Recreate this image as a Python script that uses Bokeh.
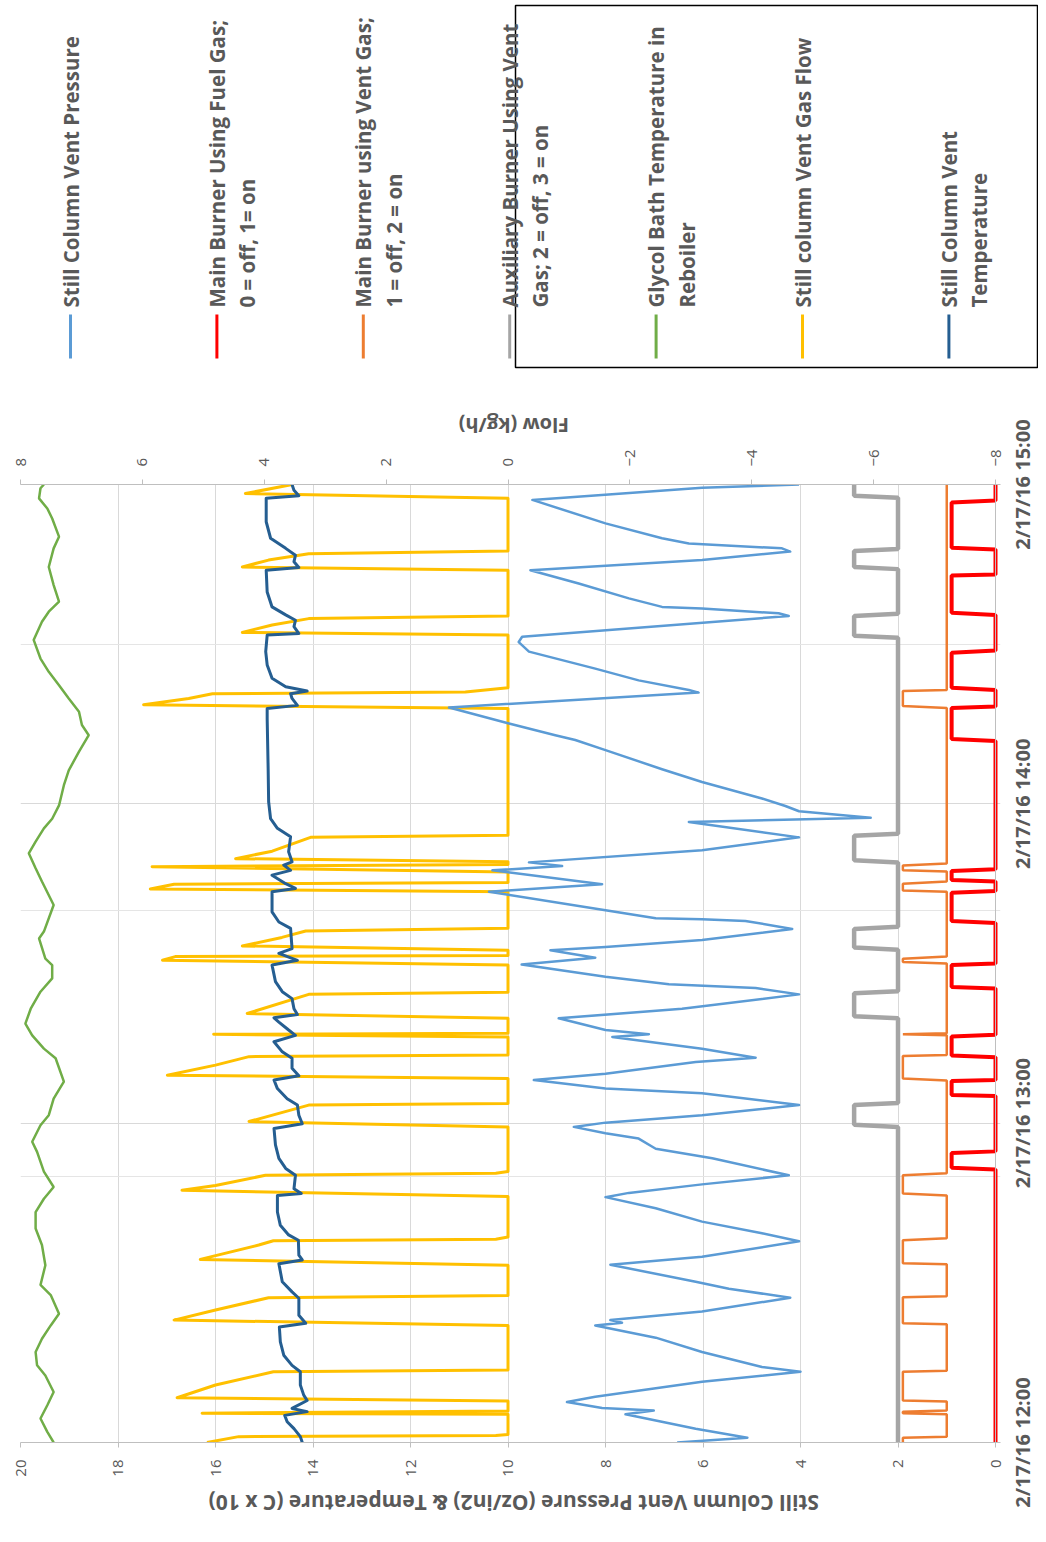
import math
from bokeh.plotting import figure
from bokeh.models import Range1d, LinearAxis, FixedTicker, Grid, Span
from bokeh.layouts import column, row
from bokeh.embed import file_html
from bokeh.resources import INLINE
from bokeh.core.properties import value

# ---------------- data (time = minutes after 2/17/16 12:00) ----------------
time_ticks = [0, 60, 120, 180]
time_labels = ["2/17/16 12:00", "2/17/16 13:00", "2/17/16 14:00", "2/17/16 15:00"]
primary_ticks = [0, 2, 4, 6, 8, 10, 12, 14, 16, 18, 20]
flow_ticks = [-8, -6, -4, -2, 0, 2, 4, 6, 8]
primary_title = "Still Column Vent Pressure (Oz/in2) & Temperature (C x 10)"
flow_title = "Flow (kg/h)"

pressure_t = [0, 0.9, 2.6, 5.3, 6.0, 6.5, 7.6, 8.6, 11.4, 13.3, 14.2, 17.0, 19.7, 22.0, 22.5, 23.0,
              24.6, 27.2, 28.9, 30.2, 33.4, 34.9, 37.8, 39.3, 41.5, 44.0, 46.1, 46.9, 48.5, 50.2,
              53.4, 55.2, 57.1, 58.1, 59.3, 60.1, 61.5, 63.4, 65.6, 66.5, 68.1, 69.3, 71.5, 72.3,
              74.0, 76.2, 76.7, 77.5, 79.7, 81.5, 84.2, 85.4, 86.1, 87.5, 89.8, 91.1, 92.5, 93.1,
              94.4, 96.5, 98.0, 98.3, 98.5, 100.0, 103.5, 104.9, 107.5, 108.3, 109.0, 111.3, 113.7,
              116.6, 117.4, 118.6, 119.6, 121.0, 124.1, 126.5, 130.1, 132.0, 132.9, 135.1, 138.1,
              140.9, 141.4, 143.2, 145.4, 148.6, 150.4, 151.4, 155.3, 155.8, 156.7, 157.0, 158.6,
              161.4, 163.9, 165.8, 167.4, 168.0, 168.9, 169.9, 172.7, 177.1, 179.4, 180]
pressure_v = [6.53, 5.09, 6.15, 7.59, 7.01, 8.07, 8.79, 8.21, 6.02, 4.0, 4.79, 6.02, 6.97, 8.21, 7.66, 7.90,
              6.02, 4.21, 5.47, 6.15, 7.90, 6.02, 4.03, 4.79, 6.02, 6.97, 8.0, 7.52, 6.02, 4.24,
              5.81, 6.97, 7.32, 8.0, 8.65, 8.0, 6.02, 4.03, 6.02, 8.0, 9.47, 8.0, 6.15, 4.92,
              6.02, 7.86, 7.11, 8.0, 8.96, 6.43, 4.03, 4.92, 6.70, 8.0, 9.72, 8.21, 9.13, 8.0,
              6.02, 4.17, 5.13, 6.02, 6.97, 8.0, 10.39, 8.07, 10.32, 8.89, 9.57, 6.02, 4.03,
              6.29, 2.56, 4.03, 4.31, 4.79, 6.02, 6.84, 8.0, 8.62, 9.03, 9.98, 11.21,
              6.09, 6.29, 7.32, 8.21, 9.57, 9.78, 9.71, 4.24, 4.45, 6.02, 6.84, 7.52,
              8.55, 9.54, 6.02, 4.21, 4.38, 6.29, 6.84, 8.0, 9.50, 6.02, 4.03]

fuel_t = [0, 51.3, 51.6, 54.4, 54.7, 65.1, 65.3, 67.9, 68.1, 72.4, 72.7, 76.3, 76.6, 85.3, 85.6, 89.7,
          90.0, 97.6, 98.0, 103.3, 103.6, 105.4, 105.7, 107.4, 107.7, 131.8, 132.2, 138.0, 138.3,
          141.4, 141.8, 148.4, 148.8, 155.5, 155.9, 162.9, 163.1, 167.8, 168.1, 176.6, 177.0, 180]
fuel_v = [0, 0, 0.9, 0.9, 0, 0, 0.9, 0.9, 0, 0, 0.9, 0.9, 0, 0, 0.9, 0.9, 0, 0, 0.9, 0.9, 0, 0,
          0.9, 0.9, 0, 0, 0.9, 0.9, 0, 0, 0.9, 0.9, 0, 0, 0.9, 0.9, 0, 0, 0.9, 0.9, 0, 0]

ventgas_t = [0, 0.9, 1.1, 5.3, 5.5, 5.8, 6.0, 7.7, 7.9, 13.3, 13.5, 22.2, 22.4, 27.3, 27.5, 33.5,
             33.7, 38.0, 38.4, 46.4, 46.8, 50.2, 50.6, 68.0, 68.4, 72.6, 72.8, 76.5, 76.7, 76.9,
             90.0, 90.3, 90.9, 91.3, 103.5, 103.7, 105.0, 105.4, 107.3, 107.5, 108.4, 108.8,
             138.0, 138.4, 141.2, 141.4, 180]
ventgas_v = [1.9, 1.9, 1, 1, 1.9, 1.9, 1, 1, 1.9, 1.9, 1, 1, 1.9, 1.9, 1, 1, 1.9, 1.9, 1, 1, 1.9,
             1.9, 1, 1, 1.9, 1.9, 1, 1, 1.9, 1, 1, 1.9, 1.9, 1, 1, 1.9, 1.9, 1, 1, 1.9, 1.9, 1,
             1, 1.9, 1.9, 1, 1]

aux_t = [0, 59.3, 59.7, 63.4, 63.8, 79.7, 80.1, 84.4, 84.8, 92.6, 93.0, 96.5, 96.9, 109.0, 109.4,
         114.0, 114.4, 151.2, 151.6, 155.3, 155.7, 164.1, 164.5, 167.5, 167.9, 177.5, 177.9, 180]
aux_v = [2, 2, 2.9, 2.9, 2, 2, 2.9, 2.9, 2, 2, 2.9, 2.9, 2, 2, 2.9, 2.9, 2, 2, 2.9, 2.9, 2, 2,
         2.9, 2.9, 2, 2, 2.9, 2.9]

glycol_t = [0, 2.0, 4.5, 7.0, 9.5, 12.6, 14.5, 17.0, 19.5, 22.0, 24.2, 27.7, 29.6, 33.3, 37.1, 40.2,
            43.3, 45.8, 48.0, 50.9, 54.6, 56.5, 59.6, 61.5, 64.6, 67.8, 72.2, 74.0, 76.5, 78.7,
            81.5, 84.7, 87.2, 89.7, 90.9, 94.7, 96.0, 101.0, 105.4, 107.9, 110.7, 112.9, 115.4,
            117.2, 119.7, 123.5, 126.3, 129.8, 132.9, 134.8, 137.3, 139.8, 142.3, 144.8, 147.3,
            150.8, 154.2, 156.1, 158.0, 161.1, 164.5, 168.0, 170.2, 173.6, 175.5, 177.4, 179.3, 180]
glycol_v = [19.32, 19.45, 19.59, 19.45, 19.32, 19.49, 19.66, 19.69, 19.56, 19.38, 19.21, 19.38, 19.59,
            19.49, 19.56, 19.69, 19.69, 19.52, 19.32, 19.52, 19.66, 19.76, 19.59, 19.42, 19.32, 19.11,
            19.28, 19.52, 19.76, 19.90, 19.79, 19.59, 19.35, 19.35, 19.49, 19.62, 19.52, 19.32, 19.56,
            19.69, 19.83, 19.69, 19.52, 19.35, 19.21, 19.11, 19.01, 18.80, 18.60, 18.74, 18.80, 19.01,
            19.21, 19.42, 19.59, 19.73, 19.56, 19.42, 19.21, 19.32, 19.42, 19.32, 19.21, 19.35, 19.45,
            19.62, 19.59, 19.52]

flow_t = [0, 1.1, 1.3, 1.5, 5.3, 5.5, 5.9, 7.8, 8.4, 10.8, 13.3, 13.6, 22.0, 23.0, 24.9, 27.2, 27.6,
          33.3, 34.4, 37.1, 37.9, 38.2, 38.6, 46.2, 47.4, 48.3, 50.2, 50.6, 50.9, 59.3, 60.3, 63.4,
          63.7, 68.4, 69.0, 70.9, 72.5, 72.8, 76.2, 76.7, 76.9, 79.7, 80.6, 84.2, 84.6, 89.7, 90.6,
          91.3, 91.5, 92.5, 93.3, 94.9, 96.1, 96.6, 103.5, 104.0, 104.9, 105.2, 107.2, 108.2, 108.6,
          109.1, 109.7, 111.1, 113.7, 114.1, 137.9, 138.6, 139.8, 140.7, 141.0, 141.8, 151.7, 152.2,
          153.6, 154.8, 155.3, 163.9, 164.5, 165.8, 167.0, 167.5, 177.4, 178.3, 180]
flow_v = [4.94, 4.42, 0.2, 0, 0, 5.02, 0, 0, 5.43, 4.80, 3.85, 0, 0, 5.48, 4.80, 3.93, 0,
          0, 5.05, 4.09, 3.85, 0.2, 0, 0, 5.35, 4.80, 3.98, 0.2, 0, 0, 4.25, 3.27,
          0, 0, 5.59, 4.80, 4.25, 0, 0, 4.83, 0, 0, 4.28, 3.27, 0, 0, 5.67,
          5.46, 0, 0, 4.36, 3.71, 3.32, 0, 0, 5.87, 5.48, 0, 0, 5.84, 0,
          0, 4.47, 3.87, 3.24, 0, 0, 5.98, 5.24, 4.85, 0.70, 0, 0, 4.36,
          3.87, 3.27, 0, 0, 4.36, 3.93, 3.27, 0, 0, 4.31, 3.54]

venttemp_t = [0, 1.1, 2.6, 3.9, 5.1, 5.8, 6.4, 7.9, 8.9, 10.8, 13.3, 14.5, 16.4, 18.9, 21.7, 22.4,
              23.9, 27.1, 28.3, 30.2, 33.6, 34.3, 35.2, 38.0, 39.0, 40.8, 43.3, 46.4, 46.8, 47.7,
              50.2, 51.5, 53.4, 55.9, 59.0, 59.9, 61.5, 63.4, 64.6, 66.5, 68.1, 68.9, 70.3, 72.2,
              73.4, 75.3, 76.5, 77.5, 79.0, 79.8, 80.4, 81.5, 83.4, 84.7, 86.6, 89.7, 90.6, 91.9,
              92.8, 96.6, 97.8, 99.7, 103.5, 104.1, 105.0, 106.6, 107.5, 108.5, 109.1, 111.0, 113.8,
              115.4, 117.2, 120.4, 126.6, 136.0, 137.9, 138.5, 139.8, 140.7, 141.2, 142.0, 143.6,
              146.1, 148.6, 151.7, 152.0, 153.3, 154.5, 155.5, 157.0, 159.8, 163.9, 164.4, 165.5,
              166.7, 168.0, 169.9, 173.0, 177.4, 177.9, 178.9, 180]
venttemp_v = [14.22, 14.26, 14.39, 14.53, 14.58, 14.12, 14.43, 14.12, 14.19, 14.26, 14.26, 14.43, 14.60,
              14.67, 14.69, 14.15, 14.29, 14.29, 14.43, 14.63, 14.70, 14.22, 14.29, 14.30, 14.50,
              14.67, 14.73, 14.73, 14.24, 14.39, 14.36, 14.56, 14.70, 14.77, 14.80, 14.22, 14.29,
              14.32, 14.53, 14.73, 14.80, 14.29, 14.43, 14.43, 14.63, 14.80, 14.36, 14.50, 14.70,
              14.80, 14.32, 14.39, 14.43, 14.63, 14.77, 14.84, 14.32, 14.70, 14.43, 14.46, 14.70,
              14.84, 14.84, 14.36, 14.56, 14.84, 14.46, 14.60, 14.43, 14.50, 14.46, 14.73, 14.87,
              14.91, 14.92, 14.94, 14.94, 14.32, 14.43, 14.46, 14.12, 14.56, 14.84, 14.94, 14.97,
              14.94, 14.29, 14.39, 14.36, 14.56, 14.84, 14.94, 14.96, 14.29, 14.39, 14.36, 14.56,
              14.87, 14.96, 14.96, 14.29, 14.39, 14.43]

legend_labels = [
    ["Still Column Vent Pressure"],
    ["Main Burner Using Fuel Gas;", "0 = off, 1= on"],
    ["Main Burner using Vent Gas;", "1 = off, 2 = on"],
    ["Auxiliary Burner Using Vent", "Gas; 2 = off, 3 = on"],
    ["Glycol Bath Temperature in", "Reboiler"],
    ["Still column Vent Gas Flow"],
    ["Still Column Vent", "Temperature"],
]
legend_colors = ["#5B9BD5", "#FF0000", "#ED7D31", "#A5A5A5", "#70AD47", "#FFC000", "#255E91"]

TXT = "#595959"
FONT = "Open Sans"
PX_PER_MIN = 958 / 180.0        # vertical scale of the time axis
PX_PER_UNIT = 975 / 20.0        # horizontal scale of the primary axis
LEFT_W = 1008                   # width of the chart column; labels strip to its right


def blank(width, height, xr, yr):
    f = figure(width=width, height=height, x_range=xr, y_range=yr, output_backend="svg",
               toolbar_location=None, min_border=0, x_axis_location=None, y_axis_location=None)
    f.grid.visible = False
    f.outline_line_color = None
    return f


# ---------------- header: legend (page pixel coords) ----------------
hdr = blank(1038, 372, Range1d(0, 1038), Range1d(372, 0))
hdr.quad(left=[515], right=[1037], top=[5], bottom=[367], fill_color=None,
         line_color="black", line_width=1.5)
tx, ty, tt, kx = [], [], [], []
for i, lines in enumerate(legend_labels):
    cx = 70 + 146.4 * i
    kx.append(cx)
    for j, s in enumerate(lines):
        tx.append(cx + 30.5 * j)
        ty.append(307)
        tt.append(s)
hdr.segment(x0=kx, y0=[314] * 7, x1=kx, y1=[358] * 7, line_color=legend_colors, line_width=3)
hdr.text(x=tx, y=ty, text=tt, angle=math.pi / 2, text_align="left", text_baseline="middle",
         text_font=value(FONT), text_font_style="bold", text_font_size="20.5px", text_color=TXT)

# ---------------- secondary axis title ----------------
sub = blank(LEFT_W, 73, Range1d(0, LEFT_W), Range1d(445, 372))
sub.text(x=[507.5], y=[425], text=[flow_title], angle=math.pi, text_align="center",
         text_baseline="middle", text_font=value(FONT), text_font_style="bold",
         text_font_size="20px", text_color=TXT)

# ---------------- main chart ----------------
p = figure(width=LEFT_W, height=1042, output_backend="svg", toolbar_location=None,
           x_range=Range1d(20, -5 / PX_PER_UNIT), y_range=Range1d(0, 180),
           x_axis_location="below", y_axis_location=None,
           min_border_left=20, min_border_right=LEFT_W - 1000, min_border_top=39,
           min_border_bottom=45)
p.outline_line_color = None
p.extra_x_ranges = {"flow": Range1d(8, -8 - 5 / (975 / 16.0))}

bx = p.below[0]
bx.ticker = FixedTicker(ticks=primary_ticks)
bx.major_label_orientation = math.pi / 2
bx.major_label_standoff = 12

top = LinearAxis(x_range_name="flow", ticker=FixedTicker(ticks=flow_ticks))
top.major_label_orientation = math.pi / 2
top.major_label_standoff = 13
p.add_layout(top, "above")

for ax in (bx, top):
    ax.axis_line_color = "#BFBFBF"
    ax.major_tick_line_color = "#BFBFBF"
    ax.major_tick_out = 5
    ax.major_tick_in = 0
    ax.minor_tick_line_color = None
    ax.major_label_text_font = FONT
    ax.major_label_text_font_size = "15px"
    ax.major_label_text_color = TXT

p.xgrid.ticker = FixedTicker(ticks=primary_ticks)
p.xgrid.grid_line_color = "#D9D9D9"
p.add_layout(Grid(dimension=1, ticker=FixedTicker(ticks=[60, 120]), grid_line_color="#D9D9D9"))
p.add_layout(Span(location=0, dimension="height", line_color="#BFBFBF", line_width=1))

p.line(glycol_v, glycol_t, line_color="#70AD47", line_width=2.5)
p.line(flow_v, flow_t, x_range_name="flow", line_color="#FFC000", line_width=3, line_join="round")
p.line(pressure_v, pressure_t, line_color="#5B9BD5", line_width=2.5, line_join="round")
p.line(aux_v, aux_t, line_color="#A5A5A5", line_width=4.5)
p.line(ventgas_v, ventgas_t, line_color="#ED7D31", line_width=2.5)
p.line(fuel_v, fuel_t, line_color="#FF0000", line_width=4)
p.line(venttemp_v, venttemp_t, line_color="#255E91", line_width=3, line_join="round")

# ---------------- footer: primary axis title ----------------
ftr = blank(LEFT_W, 47, Range1d(0, LEFT_W), Range1d(1534, 1487))
ftr.text(x=[507.5], y=[1502], text=[primary_title], angle=math.pi, text_align="center",
         text_baseline="middle", text_font=value(FONT), text_font_style="bold",
         text_font_size="21px", text_color=TXT)

# ---------------- time-axis labels strip (same vertical scale as the chart) ----------------
strip = blank(1038 - LEFT_W, 1162, Range1d(0, 1038 - LEFT_W),
              Range1d(-(1534 - 1442) / PX_PER_MIN, 180 + (484 - 372) / PX_PER_MIN))
strip.text(x=[1022 - LEFT_W] * len(time_ticks), y=time_ticks, text=time_labels,
           angle=math.pi / 2, text_align="center", text_baseline="middle",
           text_font=value(FONT), text_font_style="bold", text_font_size="20px",
           text_color=TXT)

layout = column(row(hdr), row(column(sub, p, ftr), column(strip)))
open("out.html", "w").write(file_html(layout, INLINE))
